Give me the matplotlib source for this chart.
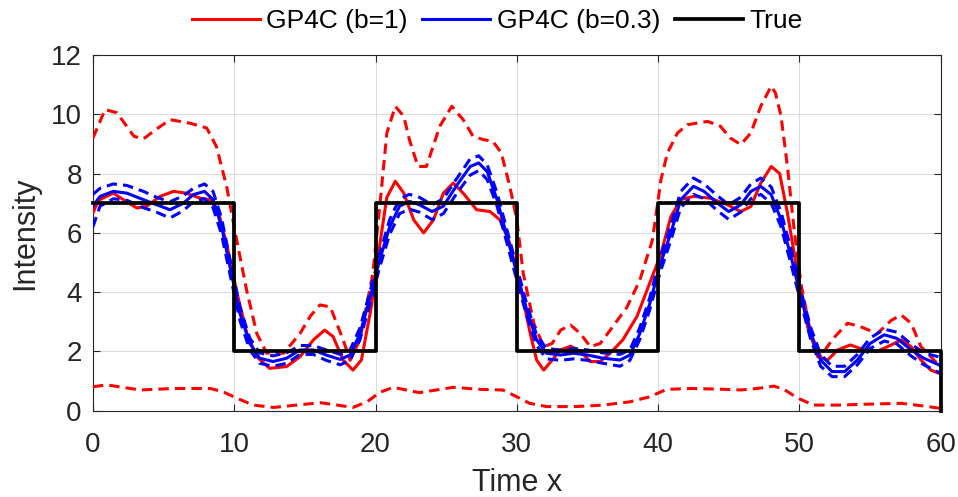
import matplotlib
matplotlib.use("Agg")
import matplotlib.pyplot as plt
import numpy as np

plt.rcParams['font.family'] = ['Liberation Sans', 'DejaVu Sans']

# True step signal
true_edges = [0, 10, 20, 30, 40, 50, 60]
true_levels = [7, 2, 7, 2, 7, 2]
true_end = 0

# GP4C (b=1) mean
red_x = [0, 0.4, 1.44, 2.15, 3.1, 3.8, 4.75, 5.7, 6.6, 7.6, 8.3, 8.9, 9.5, 10.2, 10.9, 11.6,
         12.5, 13.7, 14.65, 15.6, 16.4, 17.0, 17.7, 18.4, 19.0, 19.7, 20.3, 20.8, 21.4, 22.0,
         22.7, 23.4, 24.1, 24.8, 25.5, 26.2, 27.15, 28.1, 28.8, 29.5, 30.25, 30.95, 31.4, 31.9,
         32.5, 33.1, 33.8, 34.5, 35.2, 35.9, 36.6, 37.5, 38.5, 39.4, 40.2, 40.9, 41.6, 42.5,
         43.7, 44.9, 45.85, 46.56, 47.26, 48.0, 48.6, 49.15, 49.86, 50.57, 51.3, 52.0, 52.7,
         53.6, 54.6, 55.5, 56.5, 57.2, 57.9, 58.6, 59.3, 60]
red_y = [6.67, 7.1, 7.34, 7.12, 6.84, 6.9, 7.23, 7.4, 7.34, 7.17, 7.12, 6.67, 5.54, 3.96, 2.6, 1.82,
         1.43, 1.49, 1.82, 2.39, 2.72, 2.5, 1.71, 1.37, 1.71, 3.5, 5.6, 7.2, 7.74, 7.34,
         6.44, 6.0, 6.44, 7.34, 7.68, 7.34, 6.78, 6.72, 6.44, 5.65, 4.19, 2.6, 1.71, 1.37,
         1.71, 2.05, 2.18, 2.0, 1.66, 1.66, 1.94, 2.39, 3.18, 4.3, 5.3, 6.55, 7.12, 7.23,
         7.17, 6.95, 6.72, 6.89, 7.68, 8.24, 8.0, 6.67, 4.64, 2.84, 1.82, 1.71, 2.05,
         2.22, 2.05, 2.0, 2.22, 2.39, 2.16, 1.71, 1.37, 1.24]

# GP4C (b=1) upper band
red_up_x = [0, 0.86, 1.7, 2.9, 3.57, 4.5, 5.45, 6.87, 8.05, 8.75, 9.46, 10.17, 10.87, 11.6, 12.3,
            13.5, 14.65, 15.4, 16.07, 16.8, 17.7, 18.2, 18.9, 19.8, 20.3, 20.8, 21.4, 22.0, 22.4,
            23.0, 23.6, 24.55, 25.4, 26.2, 26.9, 27.6, 28.3, 28.9, 29.5, 30.0, 30.45, 31.2, 31.9,
            32.5, 33.1, 33.8, 34.5, 35.2, 35.9, 36.8, 37.8, 38.7, 39.6, 40.2, 40.66, 41.37, 42.07,
            43.5, 44.4, 45.1, 45.85, 46.56, 47.26, 48.0, 48.3, 48.7, 49.15, 49.6, 50.1, 50.8,
            51.5, 52.3, 53.4, 54.3, 55.5, 56.5, 57.2, 57.9, 58.6, 59.3, 60]
red_up_y = [9.2, 10.16, 10.05, 9.26, 9.17, 9.5, 9.82, 9.7, 9.54, 8.9, 7.57, 5.77, 4.08, 2.6, 1.94,
            1.94, 2.6, 3.2, 3.57, 3.5, 2.4, 1.7, 2.4, 4.6, 6.9, 9.37, 10.27, 9.93, 9.14,
            8.24, 8.24, 9.6, 10.27, 9.82, 9.26, 9.15, 9.09, 8.7, 7.57, 6.44, 4.64, 2.95, 2.16,
            2.27, 2.72, 2.89, 2.6, 2.16, 2.27, 2.84, 3.5, 4.4, 5.77, 7.8, 8.7, 9.37, 9.65,
            9.76, 9.6, 9.2, 8.98, 9.37, 10.27, 10.95, 10.72, 9.93, 8.24, 6.22, 4.3, 2.6,
            1.82, 2.39, 2.95, 2.84, 2.6, 3.05, 3.23, 2.95, 2.16, 1.82, 1.45]

# GP4C (b=1) lower band
red_lo_x = [0, 1.0, 3.33, 5.7, 8.3, 9.2, 10.2, 11.35, 12.8, 14.4, 16.1, 17.3, 18.4, 19.4, 20.3,
            21.25, 23.1, 25.5, 27.4, 29.0, 30.0, 30.9, 32.1, 34.2, 36.1, 38.0, 39.4, 40.6, 42.3,
            44.2, 45.85, 47.0, 48.2, 48.9, 49.9, 51.0, 52.7, 54.8, 57.2, 58.6, 60]
red_lo_y = [0.81, 0.87, 0.7, 0.75, 0.75, 0.64, 0.42, 0.19, 0.11, 0.19, 0.27, 0.19, 0.11, 0.3, 0.62,
            0.79, 0.61, 0.79, 0.72, 0.7, 0.47, 0.25, 0.14, 0.14, 0.19, 0.3, 0.47, 0.72, 0.75,
            0.73, 0.7, 0.75, 0.83, 0.72, 0.42, 0.19, 0.19, 0.22, 0.25, 0.17, 0.08]

# GP4C (b=0.3) mean and band
blue_x = [0, 0.5, 1.44, 2.4, 3.57, 4.5, 5.45, 6.4, 7.1, 7.9, 8.5, 9.1, 9.7, 10.4, 11.1, 11.8,
          12.75, 13.7, 14.65, 15.6, 16.5, 17.5, 18.2, 18.9, 19.6, 20.3, 21.0, 21.7, 22.4, 23.1,
          24.0, 24.8, 25.7, 26.7, 27.3, 27.9, 28.6, 29.3, 30.0, 30.7, 31.4, 32.1, 33.1, 34.0,
          35.0, 36.1, 37.3, 38.0, 38.7, 39.4, 40.1, 40.9, 41.6, 42.5, 43.25, 44.2, 45.0, 45.85,
          46.56, 47.26, 48.0, 48.7, 49.4, 50.1, 50.8, 51.5, 52.3, 53.2, 54.1, 55.0, 56.0, 56.9,
          57.9, 58.8, 60]
blue_y = [6.9, 7.23, 7.4, 7.34, 7.12, 6.95, 6.78, 7.0, 7.29, 7.4, 7.12, 6.22, 4.86, 3.29, 2.27, 1.77,
          1.66, 1.77, 2.05, 2.05, 1.88, 1.73, 1.88, 2.6, 3.8, 5.1, 6.2, 6.9, 7.06, 6.95,
          6.72, 6.9, 7.57, 8.24, 8.36, 8.07, 7.12, 5.88, 4.64, 3.4, 2.39, 1.94, 1.88, 1.94,
          1.88, 1.77, 1.71, 1.88, 2.6, 3.6, 4.86, 6.0, 7.12, 7.57, 7.4, 7.0, 6.72, 6.95,
          7.4, 7.57, 7.29, 6.44, 5.2, 3.85, 2.6, 1.71, 1.32, 1.32, 1.71, 2.27, 2.56, 2.44,
          2.05, 1.77, 1.52]
blue_up = [7.3, 7.5, 7.65, 7.6, 7.4, 7.2, 7.05, 7.25, 7.5, 7.65, 7.4, 6.5, 5.1, 3.5, 2.45, 1.95,
           1.85, 1.95, 2.2, 2.2, 2.05, 1.9, 2.05, 2.8, 4.0, 5.3, 6.45, 7.15, 7.3, 7.2,
           6.95, 7.15, 7.8, 8.5, 8.6, 8.3, 7.35, 6.1, 4.85, 3.6, 2.55, 2.1, 2.05, 2.1,
           2.05, 1.95, 1.9, 2.05, 2.8, 3.8, 5.1, 6.25, 7.4, 7.85, 7.65, 7.25, 6.95, 7.2,
           7.65, 7.85, 7.55, 6.7, 5.45, 4.05, 2.8, 1.9, 1.5, 1.5, 1.9, 2.45, 2.75, 2.65,
           2.25, 1.95, 1.8]
blue_lo = [6.2, 6.9, 7.15, 7.1, 6.85, 6.7, 6.5, 6.75, 7.05, 7.15, 6.85, 5.95, 4.6, 3.05, 2.05, 1.6,
           1.5, 1.6, 1.9, 1.9, 1.7, 1.55, 1.7, 2.4, 3.6, 4.85, 5.95, 6.65, 6.8, 6.7,
           6.45, 6.65, 7.3, 7.95, 8.1, 7.8, 6.9, 5.65, 4.4, 3.2, 2.2, 1.75, 1.7, 1.75,
           1.7, 1.6, 1.5, 1.7, 2.4, 3.4, 4.6, 5.75, 6.85, 7.3, 7.15, 6.75, 6.45, 6.7,
           7.15, 7.3, 7.0, 6.2, 4.95, 3.65, 2.4, 1.5, 1.15, 1.15, 1.55, 2.1, 2.35, 2.25,
           1.85, 1.55, 1.26]

xticks = [0, 10, 20, 30, 40, 50, 60]
yticks = [0, 2, 4, 6, 8, 10, 12]

RED = '#ff0000'
BLUE = '#0000ff'
AX = '#262626'

fig = plt.figure(figsize=(9.58, 4.97), dpi=100)
ax = fig.add_axes([0.097, 0.1736, 0.885, 0.7157])

dash = (3.4, 2.0)
lw = 2.2

# true signal
tx = [true_edges[0]]
ty = [true_levels[0]]
for i, v in enumerate(true_levels):
    tx += [true_edges[i], true_edges[i + 1]]
    ty += [v, v]
tx.append(true_edges[-1])
ty.append(true_end)

l1, = ax.plot(red_x, red_y, color=RED, lw=lw, zorder=3)
ax.plot(red_up_x, red_up_y, color=RED, lw=lw, dashes=dash, zorder=3)
ax.plot(red_lo_x, red_lo_y, color=RED, lw=lw, dashes=dash, zorder=3)
ax.plot(blue_x, blue_up, color=BLUE, lw=lw, dashes=dash, zorder=4)
ax.plot(blue_x, blue_lo, color=BLUE, lw=lw, dashes=dash, zorder=4)
l2, = ax.plot(blue_x, blue_y, color=BLUE, lw=lw, zorder=4)
l3, = ax.plot(tx, ty, color='black', lw=2.7, zorder=5, clip_on=False)

ax.set_xlim(0, 60)
ax.set_ylim(0, 12)
ax.set_xticks(xticks)
ax.set_yticks(yticks)
ax.grid(True, color='#dcdcdc', lw=0.8)
ax.set_axisbelow(True)
ax.tick_params(direction='in', top=True, right=True, length=5, width=0.8,
               labelsize=20, colors=AX)
ax.tick_params(axis='x', pad=15)
ax.tick_params(axis='y', pad=8)
for s in ax.spines.values():
    s.set_color(AX)
    s.set_linewidth(0.8)

ax.set_xlabel('Time x', fontsize=22, color=AX, labelpad=7.5)
ax.set_ylabel('Intensity', fontsize=22, color=AX, labelpad=8)

fig.legend([l1, l2, l3], ['GP4C (b=1)', 'GP4C (b=0.3)', 'True'],
           loc='center', bbox_to_anchor=(0.519, 0.958), ncol=3, frameon=False,
           fontsize=19, handlelength=2.58, handletextpad=0.25, columnspacing=0.55,
           borderpad=0.1)

fig.savefig('out.png', dpi=100)
